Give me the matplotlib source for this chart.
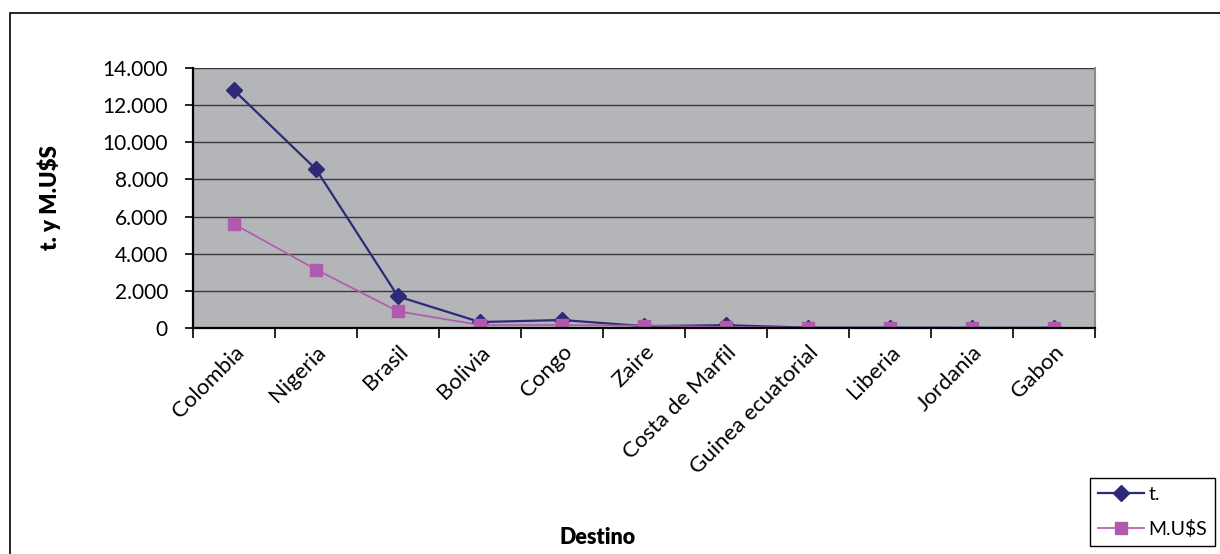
import matplotlib.pyplot as plt
from matplotlib.patches import Rectangle
import numpy as np

destinos = ['Colombia', 'Nigeria', 'Brasil', 'Bolivia', 'Congo', 'Zaire',
            'Costa de Marfil', 'Guinea ecuatorial', 'Liberia', 'Jordania', 'Gabon']
toneladas = [12800, 8550, 1700, 320, 430, 100, 150, 20, 15, 10, 10]
millones_usd = [5600, 3150, 900, 160, 160, 130, 60, 15, 10, 8, 8]
yticks = [0, 2000, 4000, 6000, 8000, 10000, 12000, 14000]
ytick_labels = ['0', '2.000', '4.000', '6.000', '8.000', '10.000', '12.000', '14.000']

plt.rcParams['font.family'] = ['Lato', 'DejaVu Sans']

fig = plt.figure(figsize=(12.2, 5.54), dpi=100)
fig.patches.append(Rectangle((10/1220, -0.01), 1.02, 1 - 13/554 + 0.01,
                             transform=fig.transFigure, fill=False,
                             edgecolor='black', linewidth=1.2))

ax = fig.add_axes([193/1220, 226/554, 902/1220, 260/554])
ax.set_facecolor('#b4b5b9')
ax.set_axisbelow(True)

x = np.arange(len(destinos))
ax.plot(x, toneladas, color='#2e2a78', marker='D', markersize=8,
        linewidth=1.6, label='t.')
ax.plot(x, millones_usd, color='#b05aad', marker='s', markersize=8,
        linewidth=1.2, label='M.U$S')

ax.set_xlim(-0.5, len(destinos) - 0.5)
ax.set_ylim(0, 14000)
ax.set_yticks(yticks)
ax.set_yticklabels(ytick_labels, fontsize=15)
ax.yaxis.grid(True, color='#3a3a3a', linewidth=1)

ax.set_xticks(np.arange(-0.5, len(destinos), 1.0))
ax.set_xticklabels([])
ax.set_xticks(x, minor=True)
ax.set_xticklabels(destinos, minor=True, rotation=45, ha='right',
                   rotation_mode='anchor', fontsize=16)
ax.tick_params(axis='x', which='minor', length=0, pad=10)
ax.tick_params(axis='x', which='major', length=7, width=1.2, direction='out')
ax.tick_params(axis='y', length=6, width=1.2, direction='out', pad=12)

for side in ['left', 'bottom']:
    ax.spines[side].set_linewidth(1.6)
    ax.spines[side].set_color('black')
ax.spines['top'].set_visible(False)
ax.spines['right'].set_color('#8a8a8a')
ax.spines['right'].set_linewidth(1.5)

ax.set_ylabel('t. y M.U$S', fontsize=16, fontweight='heavy', labelpad=30)
fig.text(598/1220, 1 - 538/554, 'Destino', fontsize=15.5, fontweight='heavy',
         ha='center', va='center')

fig.legend(loc='upper left', bbox_to_anchor=(1090/1220, 1 - 478/554),
           frameon=True, fancybox=False, edgecolor='black', fontsize=14,
           handlelength=2.4, handletextpad=0.2, borderaxespad=0,
           labelspacing=0.9, borderpad=0.4, framealpha=1)

fig.savefig('out.png', dpi=100)
